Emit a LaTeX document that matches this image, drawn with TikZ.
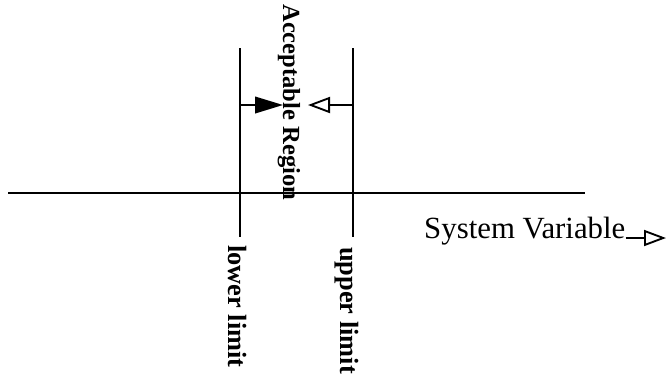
\documentclass[tikz,border=0pt]{standalone}
\usepackage{fontspec}
\setmainfont{Liberation Serif}
\usetikzlibrary{arrows.meta}

\begin{document}
\begin{tikzpicture}[
    x=0.03cm, y=-0.03cm,
    axisline/.style={line width=1.3pt, draw=black},
    limitline/.style={line width=1.5pt, draw=black},
    bigtext/.style={font=\fontsize{21}{24}\selectfont\bfseries, inner sep=0pt},
    limtext/.style={font=\fontsize{22.5}{26}\selectfont\bfseries, inner sep=0pt},
    vartext/.style={font=\fontsize{26.3}{29}\selectfont, inner sep=0pt},
    fillarr/.style={-{Triangle[length=0.84cm, width=0.50cm]}, line width=1.5pt},
    openarr/.style={-{Triangle[open, length=0.66cm, width=0.48cm, line width=1.6pt]}, line width=1.5pt},
]
\useasboundingbox (0,0) rectangle (667,378);

% axis and limits
\coordinate (axl) at (8,193);
\coordinate (axr) at (585,193);
\coordinate (lowtop) at (240,48);
\coordinate (lowbot) at (240,237);
\coordinate (uptop)  at (353,48);
\coordinate (upbot)  at (353,237);
\coordinate (lowmid) at (240,105);
\coordinate (upmid)  at (353,105);
\coordinate (lowtip) at (283,105);
\coordinate (uptip)  at (308,105);

\draw[axisline]  (axl) -- (axr);
\draw[limitline] (lowtop) -- (lowbot);
\draw[limitline] (uptop) -- (upbot);

\draw[fillarr] (lowmid) -- (lowtip);
\draw[openarr] (upmid) -- (uptip);

% labels
\node[bigtext, rotate=-90, anchor=base west] (region) at (283,4) {Acceptable Region};
\node[limtext, rotate=-90, anchor=base west] (lowlab) at (228,245) {lower limit};
\node[limtext, rotate=-90, anchor=base west] (uplab)  at (340,247) {upper limit};

\node[vartext, anchor=base west] (sysvar) at (424,238) {System Variable};
\coordinate (svend) at (666,238);
\draw[openarr] (sysvar.base east) -- (svend);

\end{tikzpicture}
\end{document}
